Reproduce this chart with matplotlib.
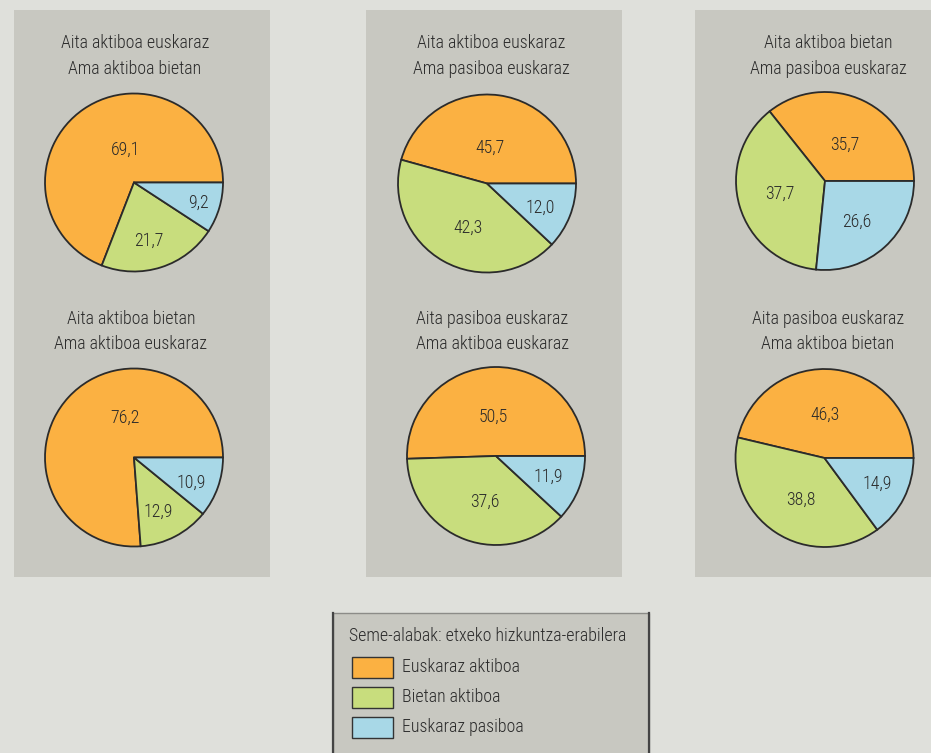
import matplotlib
matplotlib.use("Agg")
import matplotlib.pyplot as plt
from matplotlib.patches import Rectangle
from matplotlib.lines import Line2D
from matplotlib import font_manager

# ---- data ----
categories = ["Euskaraz aktiboa", "Bietan aktiboa", "Euskaraz pasiboa"]
titles = [
    "Aita aktiboa euskaraz\nAma aktiboa bietan",
    "Aita aktiboa euskaraz\nAma pasiboa euskaraz",
    "Aita aktiboa bietan\nAma pasiboa euskaraz",
    "Aita aktiboa bietan\nAma aktiboa euskaraz",
    "Aita pasiboa euskaraz\nAma aktiboa euskaraz",
    "Aita pasiboa euskaraz\nAma aktiboa bietan",
]
values = [
    [69.1, 21.7, 9.2],
    [45.7, 42.3, 12.0],
    [35.7, 37.7, 26.6],
    [76.2, 12.9, 10.9],
    [50.5, 37.6, 11.9],
    [46.3, 38.8, 14.9],
]
legend_title = "Seme-alabak: etxeko hizkuntza-erabilera"

# ---- style ----
colors = ["#fbb142", "#c8dd7d", "#a8d8e7"]
bg = "#dfe0db"
panel = "#c8c8c1"
edge = "#2b2b2b"
txt = "#2a2a2a"

avail = {f.name for f in font_manager.fontManager.ttflist}
fam = ["Roboto Condensed", "Liberation Sans Narrow", "DejaVu Sans"]
fam = [f for f in fam if f in avail] or ["DejaVu Sans"]
plt.rcParams["font.family"] = fam

W, H = 931, 753
fig = plt.figure(figsize=(W / 100, H / 100), dpi=100, facecolor=bg)

def fr(x0, y0, x1, y1):
    # pixel box (top-left origin) -> figure fraction rect
    return [x0 / W, 1 - y1 / H, (x1 - x0) / W, (y1 - y0) / H]

# panels
for (x0, x1) in [(14, 270), (366, 622), (695, 935)]:
    r = fr(x0, 10, x1, 577)
    fig.patches.append(Rectangle((r[0], r[1]), r[2], r[3], transform=fig.transFigure,
                                 facecolor=panel, edgecolor="none", zorder=-5))

# pie layout (pixel centers), radius
centers = [(134, 182.5), (487, 183.5), (825, 181), (134, 457.5), (496, 456), (824.5, 458)]
title_pos = [(135, 56), (491, 56), (828, 56), (131, 331), (492, 331), (828, 331)]
R = 89
label_off = [
    [(-0.09, 0.37), (0.17, -0.65), (0.72, -0.23)],
    [(0.03, 0.40), (-0.21, -0.50), (0.60, -0.27)],
    [(0.22, 0.41), (-0.51, -0.14), (0.36, -0.46)],
    [(-0.10, 0.45), (0.27, -0.61), (0.64, -0.28)],
    [(-0.03, 0.44), (-0.13, -0.52), (0.59, -0.23)],
    [(0.01, 0.48), (-0.26, -0.47), (0.59, -0.29)],
]

fs = 12.9
fw = "light"
for i, (vals, (cx, cy)) in enumerate(zip(values, centers)):
    ax = fig.add_axes(fr(cx - R - 2, cy - R - 2, cx + R + 2, cy + R + 2), zorder=2)
    ax.pie(vals, colors=colors, startangle=0, counterclock=True,
           wedgeprops=dict(edgecolor=edge, linewidth=1.3))
    lim = (R + 2) / R
    ax.set_xlim(-lim, lim)
    ax.set_ylim(-lim, lim)
    ax.set_aspect("equal")
    ax.axis("off")
    for v, (dx, dy) in zip(vals, label_off[i]):
        ax.text(dx, dy, f"{v:.1f}".replace(".", ","), ha="center", va="center",
                fontsize=fs, color=txt, fontweight=fw)
    tx, ty = title_pos[i]
    fig.text(tx / W, 1 - ty / H, titles[i], ha="center", va="center",
             fontsize=fs, color=txt, linespacing=1.5, fontweight=fw)

# legend box
r = fr(333, 613, 649, 760)
fig.patches.append(Rectangle((r[0], r[1]), r[2], r[3], transform=fig.transFigure,
                             facecolor=panel, edgecolor="#8c8c88", linewidth=1.0, zorder=-5))
for xp in (333, 649):
    fig.add_artist(Line2D([xp / W, xp / W], [1 - 613 / H, 0], transform=fig.transFigure,
                          color="#444444", linewidth=1.6, zorder=-4))
fig.text(349 / W, 1 - 636 / H, legend_title, ha="left", va="center", fontsize=fs,
         color=txt, fontweight=fw)
for k, (c, lab) in enumerate(zip(colors, categories)):
    y0 = 657 + 30 * k
    rr = fr(352, y0, 393, y0 + 21)
    fig.patches.append(Rectangle((rr[0], rr[1]), rr[2], rr[3], transform=fig.transFigure,
                                 facecolor=c, edgecolor="#333333", linewidth=1.0, zorder=2))
    fig.text(402 / W, 1 - (y0 + 10.5) / H, lab, ha="left", va="center", fontsize=fs,
             color=txt, fontweight=fw)

fig.savefig("out.png", dpi=100, facecolor=bg)
